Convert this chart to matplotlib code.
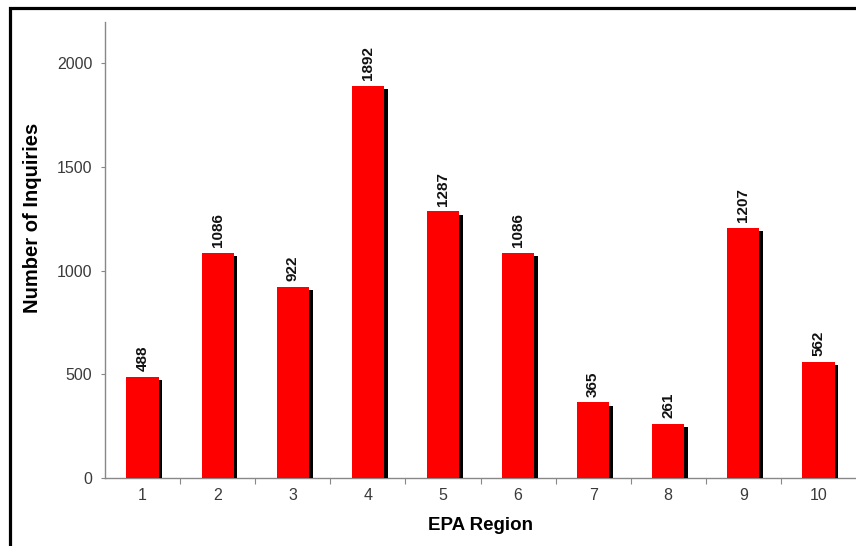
#!/usr/bin/env python3
"""Bar chart: number of inquiries per EPA region."""

import matplotlib

matplotlib.use("Agg")
import matplotlib.pyplot as plt
import matplotlib.patheffects as pe
from matplotlib.patches import Rectangle

regions = [1, 2, 3, 4, 5, 6, 7, 8, 9, 10]
inquiries = [488, 1086, 922, 1892, 1287, 1086, 365, 261, 1207, 562]
y_ticks = [0, 500, 1000, 1500, 2000]

plt.rcParams["font.family"] = ["Liberation Sans", "DejaVu Sans"]

W, H = 856, 546
fig = plt.figure(figsize=(W / 100, H / 100), dpi=100)
ax = fig.add_axes([105 / W, (H - 478) / H, (W - 105) / W, (478 - 22) / H])

bars = ax.bar(regions, inquiries, width=0.43, color="#ff0000", zorder=3)
for b in bars:
    b.set_path_effects([
        pe.SimplePatchShadow(offset=(2.6, -2.4), shadow_rgbFace="black", alpha=1.0),
        pe.Normal(),
    ])

for x, v in zip(regions, inquiries):
    ax.annotate(f"{v}", (x, v), xytext=(0, 4), textcoords="offset points",
                rotation=90, ha="center", va="bottom", fontsize=11,
                fontweight="bold", color="#111111")

ax.set_xlim(0.5, 10.5)
ax.set_ylim(0, 2200)
ax.set_yticks(y_ticks)
ax.set_xticks(regions)
ax.set_xticks([r + 0.5 for r in regions[:-1]], minor=True)
ax.tick_params(axis="x", which="major", length=0, pad=7, labelsize=11.5,
               labelcolor="#3a3a3a")
ax.tick_params(axis="x", which="minor", length=4, width=0.8, color="#888888",
               direction="out")
ax.tick_params(axis="y", length=3, width=0.8, color="#888888", pad=6,
               labelsize=11.5, labelcolor="#3a3a3a")

for side in ("top", "right"):
    ax.spines[side].set_visible(False)
for side in ("left", "bottom"):
    ax.spines[side].set_color("#888888")
    ax.spines[side].set_linewidth(1.0)

ax.set_xlabel("EPA Region", fontsize=13.5, fontweight="bold", labelpad=10)
fig.text(33 / W, 1 - 218 / H, "Number of Inquiries", rotation=90,
         ha="center", va="center", fontsize=14.5, fontweight="bold")

# outer frame running off the right and bottom edges
fig.add_artist(Rectangle((10 / W, -0.1), 1.2, 1 - 7.5 / H + 0.1,
                         transform=fig.transFigure, fill=False,
                         edgecolor="black", linewidth=2.3))

fig.savefig("out.png", dpi=100)
plt.close(fig)
